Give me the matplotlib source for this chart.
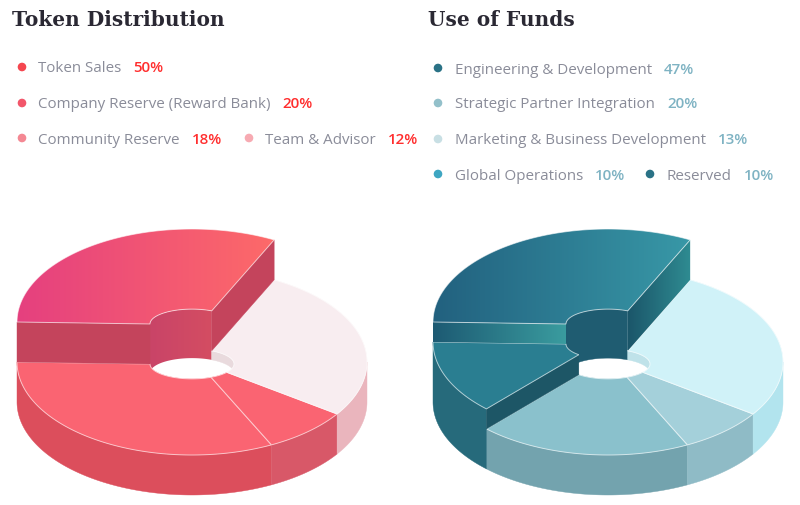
import numpy as np
import matplotlib.pyplot as plt
from matplotlib.patches import Polygon, Circle
from matplotlib.colors import LinearSegmentedColormap

# legend data
td_title = "Token Distribution"
td_labels = ["Token Sales", "Company Reserve (Reward Bank)", "Community Reserve", "Team & Advisor"]
td_pcts = [50, 20, 18, 12]
td_dot_colors = ["#f5464f", "#f2566a", "#f48893", "#f7aab2"]

uf_title = "Use of Funds"
uf_labels = ["Engineering & Development", "Strategic Partner Integration",
             "Marketing & Business Development", "Global Operations", "Reserved"]
uf_pcts = [47, 20, 13, 10, 10]
uf_dot_colors = ["#2a7286", "#93c0ca", "#c8dfe4", "#3ea6c2", "#2a7286"]

# slice arcs as drawn in the 3d donuts (degrees, counter-clockwise starting at 62 deg)
td_arcs = [118, 117, 29, 96]
uf_arcs = [118, 46, 71, 29, 96]

# --- style / layout ---
START = 62
RX, RY = 175, 93
RXI, RYI = 0.24, 0.16
INNER_DY = 2
CY0 = 402          # y of the donut centre at z = 0 (pixels, y down)

td_style = [
    dict(z=80, top=("#e5407f", "#fd6a69"), wall="#c4445c", end="#c4445c", inner=("#c94468", "#d44d62")),
    dict(z=40, top="#fa6472", wall="#dc4e5c", end="#dc4e5c", inner="#e9dadd"),
    dict(z=40, top="#fa6472", wall="#d85868", end="#d85868", inner="#e9dadd"),
    dict(z=40, top="#f8edf0", wall="#eab5bd", end="#eab5bd", inner="#e9dadd"),
]
uf_style = [
    dict(z=80, top=("#22617f", "#3898a7"), wall="#1f5c71",
         end={180: ("#1d5a73", "#3a9c9f"), 62: ("#1b566a", "#2f8c92")}, inner="#1f5c71"),
    dict(z=60, top="#2a7e91", wall="#266a7b", end="#1d5666", inner="#bfe2e9"),
    dict(z=40, top="#8ac1cc", wall="#73a3ae", end="#73a3ae", inner="#bfe2e9"),
    dict(z=40, top="#a4d0da", wall="#8fbbc6", end="#8fbbc6", inner="#bfe2e9"),
    dict(z=40, top="#d0f2f8", wall="#b2e4ee", end="#b2e4ee", inner="#bfe2e9"),
]

fig = plt.figure(figsize=(8, 5.05), dpi=100)
ax = fig.add_axes([0, 0, 1, 1])
zc = [1]


def nz():
    zc[0] += 1
    return zc[0]


def proj(cx, th, r, z):
    t = np.radians(th)
    if r == 1:
        kx, ky, dy = 1.0, 1.0, 0.0
    else:
        kx, ky, dy = RXI, RYI, INNER_DY
    return np.column_stack([cx + RX * kx * np.cos(t), CY0 - z + dy - RY * ky * np.sin(t)])


def arc(a, b):
    return np.linspace(a, b, max(4, int(abs(b - a) * 2)))


def fill(verts, color, edge=None):
    if isinstance(color, tuple):
        poly = Polygon(verts, closed=True, fc="none", ec="none", zorder=nz())
        ax.add_patch(poly)
        x0, y0 = verts.min(0)
        x1, y1 = verts.max(0)
        cmap = LinearSegmentedColormap.from_list("g", list(color))
        im = ax.imshow(np.linspace(0, 1, 256).reshape(1, -1), cmap=cmap,
                       extent=(x0, x1, y1, y0), aspect="auto",
                       interpolation="bicubic", zorder=nz())
        im.set_clip_path(poly)
    else:
        ax.add_patch(Polygon(verts, closed=True, fc=color, ec=color, lw=0.3, zorder=nz()))
    if edge:
        ax.add_patch(Polygon(verts, closed=True, fc="none", ec=edge, lw=0.7,
                             alpha=0.6, zorder=nz()))


def overlap(a, b, lo, hi):
    out = []
    for k in (-360, 0, 360):
        s, e = max(a, lo + k), min(b, hi + k)
        if e > s:
            out.append((s, e))
    return out


def draw_donut(cx, arcs, styles):
    bounds = START + np.concatenate([[0], np.cumsum(arcs)])
    n = len(arcs)
    # inner walls at the back (seen through the hole)
    for i in range(n):
        a, b = bounds[i], bounds[i + 1]
        z = styles[i]["z"]
        for s, e in overlap(a, b, 0, 180):
            t = arc(s, e)
            v = np.vstack([proj(cx, t, RXI, z), proj(cx, t[::-1], RXI, 31)])
            fill(v, styles[i]["inner"])
    # slices, lowest first
    order = sorted(range(n), key=lambda i: styles[i]["z"])
    for i in order:
        st = styles[i]
        a, b = bounds[i], bounds[i + 1]
        z = st["z"]
        for s, e in overlap(a, b, 180, 360):
            t = arc(s, e)
            v = np.vstack([proj(cx, t, 1, z), proj(cx, t[::-1], 1, 0)])
            fill(v, st["wall"])
        # radial end faces exposed above lower neighbours
        for ang, nb, vis in ((a, (i - 1) % n, np.cos(np.radians(a)) > 0),
                             (b, (i + 1) % n, np.cos(np.radians(b)) < 0)):
            zlo = styles[nb]["z"]
            if vis and zlo < z:
                p = np.vstack([proj(cx, [ang], RXI, zlo), proj(cx, [ang], 1, zlo),
                               proj(cx, [ang], 1, z), proj(cx, [ang], RXI, z)])
                col = st["end"]
                if isinstance(col, dict):
                    col = col[int(round(ang)) % 360]
                fill(p, col)
        t = arc(a, b)
        v = np.vstack([proj(cx, t, 1, z), proj(cx, t[::-1], RXI, z)])
        fill(v, st["top"], edge="white")


draw_donut(192, td_arcs, td_style)
draw_donut(608, uf_arcs, uf_style)

# titles
title_kw = dict(family="DejaVu Serif", weight="heavy", fontsize=14.5, color="#2a2833",
                va="baseline", ha="left")
ax.text(12, 26, td_title, **title_kw)
ax.text(428, 26, uf_title, **title_kw)

# legends: (dot x, label x, row y)
td_pos = [(22, 38, 67), (22, 38, 103), (22, 38, 138), (249, 265, 138)]
uf_pos = [(438, 455, 68), (438, 455, 103), (438, 455, 139), (438, 455, 174), (650, 667, 174)]

renderer = fig.canvas.get_renderer()


def legend(labels, pcts, dots, pos, pct_color):
    for lab, p, c, (dx, lx, y) in zip(labels, pcts, dots, pos):
        ax.add_patch(Circle((dx, y), 3.6, color=c, zorder=nz()))
        t = ax.text(lx, y + 5.5, lab, family="Open Sans", fontsize=10.9, color="#8a8c99",
                    va="baseline", ha="left")
        bb = t.get_window_extent(renderer)
        ax.text(bb.x1 + 12, y + 5.5, f"{p}%", family="Open Sans", fontsize=10.9,
                weight="semibold", color=pct_color, va="baseline", ha="left")


ax.set_xlim(0, 800)
ax.set_ylim(505, 0)
legend(td_labels, td_pcts, td_dot_colors, td_pos, "#ff2e2e")
legend(uf_labels, uf_pcts, uf_dot_colors, uf_pos, "#7fb3c3")

ax.set_xlim(0, 800)
ax.set_ylim(505, 0)
ax.axis("off")
fig.savefig("out.png", dpi=100, facecolor="white")
